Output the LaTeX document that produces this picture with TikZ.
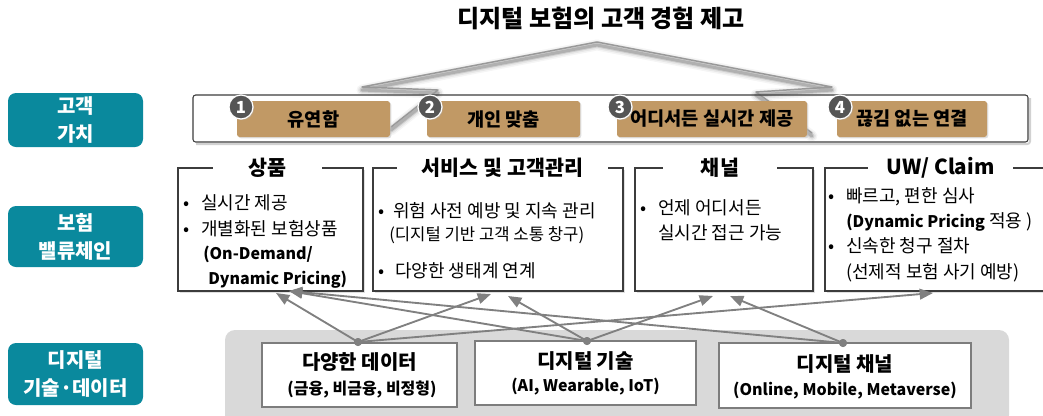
\documentclass[tikz,border=0pt]{standalone}
\usepackage{fontspec}
\setmainfont{Noto Sans CJK KR}
\usetikzlibrary{arrows.meta,shadows,calc}
\definecolor{teal2}{RGB}{10,137,157}
\definecolor{tan2}{RGB}{193,153,101}
\definecolor{numgray}{RGB}{85,85,85}
\definecolor{boxline}{RGB}{60,60,60}
\definecolor{bgray}{RGB}{125,125,125}
\definecolor{cgray}{RGB}{128,128,128}
\definecolor{regionfill}{RGB}{217,217,217}
\begin{document}
\begin{tikzpicture}[x=0.75pt,y=-0.75pt,
  side/.style={fill=teal2, rounded corners=6pt, text=white, font=\bfseries\fontsize{15}{21}\selectfont, align=center, minimum width=135*0.75pt, inner sep=0pt},
  tanlab/.style={fill=tan2, rounded corners=2pt, font=\bfseries\fontsize{14}{16}\selectfont, minimum height=36*0.75pt, inner sep=0pt, drop shadow={shadow xshift=1pt, shadow yshift=-1pt, fill=black!25}},
  num/.style={circle, fill=numgray, draw=white, line width=0.9pt, text=white, font=\bfseries\fontsize{12.5}{12.5}\selectfont, minimum size=24*0.75pt, inner sep=0pt, drop shadow={shadow xshift=0.8pt, shadow yshift=-0.8pt, fill=black!30}},
  vbox/.style={draw=boxline, line width=0.8pt, fill=white, inner sep=0pt, drop shadow={shadow xshift=1.5pt, shadow yshift=-1.5pt, fill=black!20, opacity=0.6}},
  vtitle/.style={fill=white, font=\bfseries\fontsize{15.5}{18}\selectfont, inner sep=0pt, minimum height=20*0.75pt},
  body/.style={anchor=base west, font=\fontsize{13.5}{16}\selectfont, inner sep=0pt},
  bodyb/.style={anchor=base west, font=\bfseries\fontsize{12}{16}\selectfont, inner sep=0pt},
  bbox/.style={draw=bgray, line width=1.5pt, fill=white, inner sep=0pt},
  btitle/.style={font=\bfseries\fontsize{15}{17}\selectfont, inner sep=0pt},
  bsub/.style={font=\bfseries\fontsize{12}{15}\selectfont, inner sep=0pt},
  conn/.style={draw=cgray, line width=1.4pt, -{Triangle[length=10pt,width=8pt]}},
  dot/.style={circle, fill=cgray, minimum size=8*0.75pt, inner sep=0pt},
  arrowedge/.style={line join=round, line cap=round}
]
\useasboundingbox (0,0) rectangle (1043,415);

% title
\node[font=\bfseries\fontsize{18}{21}\selectfont, inner sep=0pt] (title) at (601,18) {디지털 보험의 고객 경험 제고};

% big arrow outline (shadowed)
\coordinate (ls) at (391,127);
\coordinate (ln) at (438,90);
\coordinate (lw) at (362,87);
\coordinate (ap) at (597,42);
\coordinate (rw) at (832,87);
\coordinate (rn) at (756,92);
\coordinate (rs) at (812,133);
\foreach \w/\o in {11/0.04,8/0.06,5/0.1,3/0.15}{
  \draw[arrowedge, black, line width=\w*0.75pt, opacity=\o]
    ($(ls)+(0,3)$) -- ($(ln)+(0,3)$) -- ($(lw)+(0,3)$) -- ($(ap)+(0,3)$) -- ($(rw)+(0,3)$) -- ($(rn)+(0,3)$) -- ($(rs)+(0,3)$);
}
\draw[arrowedge, black!40, line width=1.1pt] (ls) -- (ln) -- (lw) -- (ap) -- (rw) -- (rn) -- (rs);

% left side labels
\node[side, minimum height=54*0.75pt] (sl1) at (75.5,120) {고객\\가치};
\node[side, minimum height=61*0.75pt] (sl2) at (75.5,236.5) {보험\\밸류체인};
\node[side, minimum height=62*0.75pt] (sl3) at (75.5,374) {디지털\\기술·데이터};

% customer value row
\draw[black!18, line width=1.5pt, rounded corners=2pt] (196,144) -- (1030,144) -- (1030,98);
\node[draw=boxline, line width=0.8pt, rounded corners=2pt, minimum width=835*0.75pt, minimum height=47*0.75pt, inner sep=0pt] (row) at (610.5,118.5) {};
\node[tanlab, minimum width=153*0.75pt] (t1) at (313.5,119) {유연함};
\node[tanlab, minimum width=153*0.75pt] (t2) at (503.5,119) {개인 맞춤};
\node[tanlab, minimum width=190*0.75pt] (t3) at (712,119) {어디서든 실시간 제공};
\node[tanlab, minimum width=150*0.75pt] (t4) at (912,119) {끊김 없는 연결};
\node[num] (n1) at (241,107) {1};
\node[num] (n2) at (430,107) {2};
\node[num] (n3) at (620,107) {3};
\node[num] (n4) at (840,107) {4};

% value chain boxes
\node[vbox, minimum width=185*0.75pt, minimum height=123*0.75pt] (v1) at (270.5,229.5) {};
\node[vbox, minimum width=250*0.75pt, minimum height=123*0.75pt] (v2) at (498,229.5) {};
\node[vbox, minimum width=178*0.75pt, minimum height=123*0.75pt] (v3) at (724,229.5) {};
\node[vbox, minimum width=230*0.75pt, minimum height=123*0.75pt] (v4) at (940,229.5) {};
\node[vtitle, minimum width=109*0.75pt] (v1t) at (267.5,168) {상품};
\node[vtitle, minimum width=211*0.75pt] (v2t) at (502.5,168) {서비스 및 고객관리};
\node[vtitle, minimum width=114*0.75pt] (v3t) at (720,168) {채널};
\node[vtitle, minimum width=145*0.75pt] (v4t) at (940.5,168) {UW/ Claim};

% box 1 text
\node[body] (p1b) at (183,209) {•};
\node[body] (p1) at (201,209) {실시간 제공};
\node[body] (p2b) at (183,235) {•};
\node[body] (p2) at (201,235) {개별화된 보험상품};
\node[bodyb] (p3) at (203,259) {(On-Demand/};
\node[bodyb] (p4) at (208,284) {Dynamic Pricing)};

% box 2 text
\node[body] (q1b) at (378,217) {•};
\node[body] (q1) at (393,217) {위험 사전 예방 및 지속 관리};
\node[body, font=\fontsize{12.5}{15}\selectfont] (q2) at (389,240) {(디지털 기반 고객 소통 창구)};
\node[body] (q3b) at (378,277) {•};
\node[body] (q3) at (395,277) {다양한 생태계 연계};

% box 3 text
\node[body] (c1b) at (640,214) {•};
\node[body] (c1) at (658,214) {언제 어디서든};
\node[body] (c2) at (658,239) {실시간 접근 가능};

% box 4 text
\node[body] (u1b) at (828,202) {•};
\node[body] (u1) at (846,202) {빠르고, 편한 심사};
\node[body] (u2) at (846,227) {{\bfseries\fontsize{12}{16}\selectfont (Dynamic Pricing} 적용 )};
\node[body] (u3b) at (828,252) {•};
\node[body] (u3) at (846,252) {신속한 청구 절차};
\node[body] (u4) at (846,278) {(선제적 보험 사기 예방)};

% bottom region
\fill[regionfill, rounded corners=7.5pt] (225,330) rectangle (1009,425);
\node[bbox, minimum width=195*0.75pt, minimum height=64*0.75pt] (b1) at (359.5,375) {};
\node[bbox, minimum width=221*0.75pt, minimum height=64*0.75pt] (b2) at (585.5,373) {};
\node[bbox, minimum width=252*0.75pt, minimum height=65*0.75pt] (b3) at (845,375.5) {};
\node[btitle] (b1t) at (359.5,362) {다양한 데이터};
\node[bsub] (b1s) at (362,389) {(금융, 비금융, 비정형)};
\node[btitle] (b2t) at (585.5,361) {디지털 기술};
\node[bsub] (b2s) at (585.5,387) {(AI, Wearable, IoT)};
\node[btitle] (b3t) at (845,364) {디지털 채널};
\node[bsub] (b3s) at (845,391) {(Online, Mobile, Metaverse)};

% connectors
\coordinate (a1) at (276,293);
\coordinate (a2) at (289,291);
\coordinate (a3) at (491,294);
\coordinate (a4) at (508,296);
\coordinate (a5) at (713,296);
\coordinate (a6) at (730,296);
\coordinate (a7) at (933,293);
\node[dot] (d1) at (358,342) {};
\node[dot] (d2) at (587,341) {};
\node[dot] (d3) at (843,343) {};
\draw[conn] (d1.center) -- (a1);
\draw[conn] (d1.center) -- (a3);
\draw[conn] (d1.center) -- (a7);
\draw[conn] (d2.center) -- (a2);
\draw[conn] (d2.center) -- (a4);
\draw[conn] (d2.center) -- (a5);
\draw[conn] (d3.center) -- (a2);
\draw[conn] (d3.center) -- (a6);
\node[dot] at (d1) {};
\node[dot] at (d2) {};
\node[dot] at (d3) {};
\end{tikzpicture}
\end{document}
